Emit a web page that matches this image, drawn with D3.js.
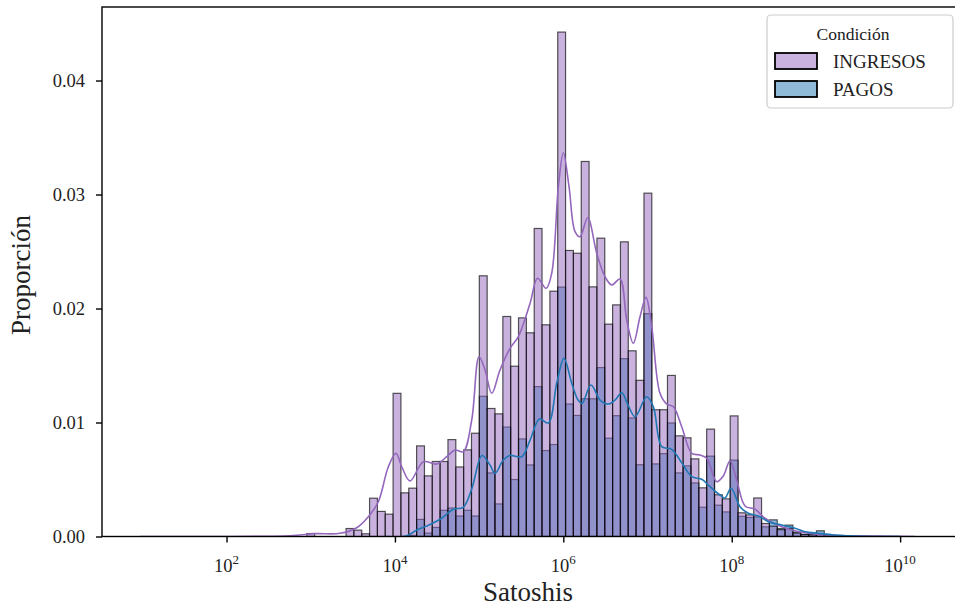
<!DOCTYPE html>
<html>
<head>
<meta charset="utf-8">
<script src="https://cdn.jsdelivr.net/npm/d3@7"></script>
<style>
  html, body { margin: 0; padding: 0; background: #fff; }
  svg { display: block; font-family: "Liberation Serif", "DejaVu Serif", serif; }
</style>
</head>
<body>
<svg id="chart" width="955" height="610"></svg>
<script>
// ---------------- DATA ----------------
const categories = ["INGRESOS", "PAGOS"];
// histogram bins in log10(satoshis)
const binStartLog = 2.9539;
const binWidthLog = 0.09311;
// proportion per bin (67 bins)
const ingresos = [
  0.00026, 0, 0, 0, 0, 0.0007, 0.00056, 0.00024, 0.00336, 0.0022,
  0.00196, 0.01256, 0.00383, 0.00424, 0.00795, 0.00532, 0.00658, 0.00658, 0.0085, 0.0061,
  0.0076, 0.00906, 0.02287, 0.01123, 0.01076, 0.0193, 0.01494, 0.01918, 0.01787, 0.02702,
  0.01857, 0.02152, 0.04425, 0.02509, 0.02485, 0.0329, 0.0219, 0.02617, 0.01863, 0.02032,
  0.02585, 0.01629, 0.0137, 0.03012, 0.01112, 0.01112, 0.01413, 0.00883, 0.00866, 0.00681,
  0.00427, 0.00942, 0.00366, 0.0033, 0.01058, 0.00208, 0.0019, 0.00338, 0.00114, 0.0009,
  0.0006, 0.0007, 0.0003, 0.00018, 0.00015, 0.0002, 0.0001
];
const pagos = [
  0, 0, 0, 0, 0, 0, 0, 0, 0, 0,
  0, 0, 0, 0.0001, 0.0015, 0.0003, 0.0008, 0.0023, 0.0025, 0.0018,
  0.0023, 0.0018, 0.0123, 0.00558, 0.00286, 0.0096, 0.005, 0.00856, 0.00628, 0.01315,
  0.00754, 0.00807, 0.02188, 0.01162, 0.01062, 0.01208, 0.01208, 0.01482, 0.00863, 0.0106,
  0.0156, 0.0104, 0.0063, 0.01955, 0.00637, 0.00727, 0.00996, 0.00558, 0.0062, 0.0047,
  0.00257, 0.00705, 0.00275, 0.00216, 0.0067, 0.00177, 0.00167, 0.00173, 0.00085, 0.00146,
  0.0007, 0.001, 0.00038, 0.00018, 0.00018, 0.0005, 0.0001
];
// KDE curves: [log10(satoshis), proportion]
const kdeIngresos = [
  [0.973,0],[2.754,0.00007],[3.051,0.00025],[3.348,0.00028],[3.546,0.00077],[3.684,0.00174],
  [3.803,0.00305],[3.922,0.00612],[4.013,0.0073],[4.081,0.00612],[4.179,0.00487],[4.337,0.00656],
  [4.496,0.00636],[4.615,0.007],[4.714,0.00759],[4.812,0.00744],[4.912,0.01022],[4.999,0.01577],
  [5.07,0.01461],[5.15,0.01256],[5.248,0.01461],[5.367,0.01651],[5.466,0.01753],[5.605,0.02046],
  [5.694,0.02265],[5.795,0.02177],[5.862,0.02309],[5.941,0.03068],[6.0,0.03367],[6.068,0.03068],
  [6.139,0.02674],[6.198,0.0263],[6.29,0.02796],[6.397,0.02484],[6.495,0.02279],[6.575,0.02206],
  [6.673,0.02259],[6.753,0.01899],[6.831,0.01695],[6.911,0.01928],[6.982,0.02098],[7.05,0.0184],
  [7.148,0.01256],[7.228,0.01162],[7.306,0.01139],[7.406,0.00963],[7.525,0.0073],[7.624,0.00715],
  [7.703,0.00686],[7.822,0.00481],[7.9,0.00531],[7.98,0.00665],[8.059,0.00496],[8.158,0.00268],
  [8.277,0.00239],[8.395,0.0016],[8.514,0.0011],[8.713,0.00057],[8.91,0.00028],[9.108,0.00013],
  [9.346,0.00007],[10.177,0]
];
const kdePagos = [
  [3.9,0],[4.14,0.00006],[4.259,0.00057],[4.417,0.00105],[4.556,0.0016],[4.694,0.00239],
  [4.812,0.00256],[4.912,0.00417],[5.034,0.00711],[5.129,0.00627],[5.189,0.00554],[5.287,0.00671],
  [5.367,0.00711],[5.506,0.007],[5.605,0.00846],[5.717,0.01031],[5.822,0.00996],[5.922,0.01346],
  [6.008,0.01563],[6.1,0.01344],[6.175,0.01197],[6.222,0.01168],[6.329,0.01329],[6.436,0.01197],
  [6.534,0.01162],[6.614,0.01197],[6.694,0.01261],[6.768,0.01154],[6.852,0.01051],[6.99,0.01226],
  [7.069,0.01139],[7.169,0.00788],[7.287,0.00765],[7.406,0.00647],[7.525,0.00525],[7.644,0.00502],
  [7.742,0.00437],[7.861,0.00364],[7.92,0.00338],[7.992,0.00423],[8.099,0.00261],[8.197,0.00204],
  [8.316,0.0018],[8.435,0.0013],[8.594,0.00101],[8.752,0.00072],[8.871,0.00042],[9.029,0.00028],
  [9.227,0.00013],[9.524,0.00002],[10.0,0]
];
const xTickExps = [2, 4, 6, 8, 10];
const yTicks = [0, 0.01, 0.02, 0.03, 0.04];
const colors = { INGRESOS: "#9467bd", PAGOS: "#1f77b4" };

// ---------------- LAYOUT ----------------
const svg = d3.select("#chart");
const mLeft = 102, mRight = 961, mTop = 7, mBottom = 536.5;
const x = d3.scaleLog().domain([Math.pow(10, 0.521), Math.pow(10, 10.723)]).range([mLeft, mRight]);
const y = d3.scaleLinear().domain([0, 0.04645]).range([mBottom, mTop]);

svg.append("defs").append("clipPath").attr("id", "clip")
  .append("rect").attr("x", mLeft).attr("y", mTop).attr("width", mRight - mLeft).attr("height", mBottom - mTop);

const plot = svg.append("g").attr("clip-path", "url(#clip)");

function drawBars(vals, color) {
  const data = vals.map((v, i) => ({
    x0: Math.pow(10, binStartLog + i * binWidthLog),
    x1: Math.pow(10, binStartLog + (i + 1) * binWidthLog),
    v: v
  }));
  plot.append("g").selectAll("rect").data(data).join("rect")
    .attr("x", d => x(d.x0))
    .attr("width", d => x(d.x1) - x(d.x0))
    .attr("y", d => y(d.v))
    .attr("height", d => y(0) - y(d.v))
    .attr("fill", color)
    .attr("fill-opacity", 0.5)
    .attr("stroke", "#000")
    .attr("stroke-opacity", 0.65)
    .attr("stroke-width", 1.2);
}
drawBars(pagos, colors.PAGOS);
drawBars(ingresos, colors.INGRESOS);

const line = d3.line()
  .x(d => x(Math.pow(10, d[0])))
  .y(d => y(d[1]))
  .curve(d3.curveCatmullRom.alpha(0.5));

plot.append("path").datum(kdeIngresos).attr("d", line)
  .attr("fill", "none").attr("stroke", colors.INGRESOS).attr("stroke-width", 1.6);
plot.append("path").datum(kdePagos).attr("d", line)
  .attr("fill", "none").attr("stroke", colors.PAGOS).attr("stroke-width", 1.6);

// spines
svg.append("rect").attr("x", mLeft).attr("y", mTop).attr("width", mRight - mLeft).attr("height", mBottom - mTop)
  .attr("fill", "none").attr("stroke", "#000").attr("stroke-width", 1.4);

// y axis
const yAxis = d3.axisLeft(y).tickValues(yTicks).tickFormat(d3.format(".2f")).tickSize(6).tickPadding(11);
const gy = svg.append("g").attr("transform", `translate(${mLeft},0)`).call(yAxis);
gy.select(".domain").remove();
gy.selectAll(".tick line").attr("stroke", "#000").attr("stroke-width", 1.4);
gy.selectAll(".tick text").attr("font-size", 18.5).attr("fill", "#222")
  .attr("font-family", "Liberation Serif, serif");

// x axis
const xAxis = d3.axisBottom(x).tickValues(xTickExps.map(e => Math.pow(10, e))).tickFormat("").tickSize(6);
const gx = svg.append("g").attr("transform", `translate(0,${mBottom})`).call(xAxis);
gx.select(".domain").remove();
gx.selectAll(".tick line").attr("stroke", "#000").attr("stroke-width", 1.4);
xTickExps.forEach(e => {
  const t = svg.append("text")
    .attr("x", x(Math.pow(10, e)))
    .attr("y", 572)
    .attr("text-anchor", "middle")
    .attr("font-size", 18.5)
    .attr("fill", "#222");
  t.append("tspan").text("10");
  t.append("tspan").attr("dy", -8).attr("font-size", 13).text(String(e));
});

// axis labels
svg.append("text").attr("x", 528).attr("y", 601).attr("text-anchor", "middle")
  .attr("font-size", 27).attr("fill", "#222").text("Satoshis");
svg.append("text").attr("transform", "translate(30,275) rotate(-90)").attr("text-anchor", "middle")
  .attr("font-size", 27).attr("fill", "#222").text("Proporción");

// legend
const lg = svg.append("g");
lg.append("rect").attr("x", 767).attr("y", 15).attr("width", 186).attr("height", 93).attr("rx", 4)
  .attr("fill", "#fff").attr("fill-opacity", 0.85).attr("stroke", "#cccccc").attr("stroke-width", 1.2);
lg.append("text").attr("x", 853).attr("y", 40).attr("text-anchor", "middle")
  .attr("font-size", 17.5).attr("fill", "#222").text("Condición");
categories.forEach((c, i) => {
  const yy = 53 + i * 28;
  lg.append("rect").attr("x", 775).attr("y", yy).attr("width", 42).attr("height", 16)
    .attr("fill", colors[c]).attr("fill-opacity", 0.5).attr("stroke", "#000").attr("stroke-width", 1.8);
  lg.append("text").attr("x", 833).attr("y", yy + 15).attr("font-size", 19).attr("fill", "#222").text(c);
});
</script>
</body>
</html>
